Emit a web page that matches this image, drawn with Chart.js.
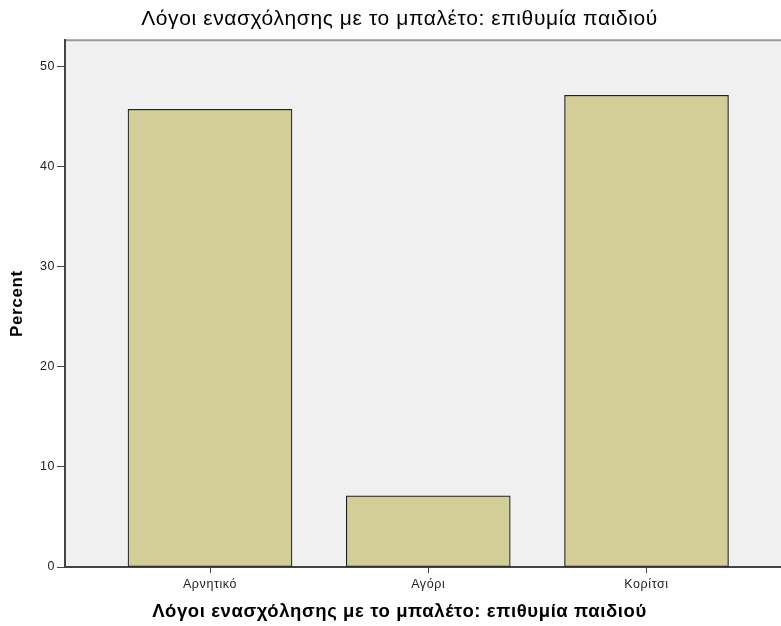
<!DOCTYPE html>
<html>
<head>
<meta charset="utf-8">
<script src="https://cdn.jsdelivr.net/npm/chart.js@4"></script>
<style>
  html, body { margin: 0; padding: 0; background: #fff; }
  #wrap { width: 781px; height: 626px; }
</style>
</head>
<body>
<div id="wrap"><canvas id="barChart" width="781" height="626"></canvas></div>
<script>
// Reasons for taking up ballet: the child's wish (percent of respondents)
const categories = ['Αρνητικό', 'Αγόρι', 'Κορίτσι'];
const percents = [45.7, 7.1, 47.1];
const yTicks = [0, 10, 20, 30, 40, 50];

const titleText = 'Λόγοι ενασχόλησης με το μπαλέτο: επιθυμία παιδιού';
const FONT = 'Arial, "Liberation Sans", sans-serif';

// Slightly looser letter spacing for every label on the canvas
const spacing = {
    id: 'spacing',
    beforeDraw: (chart) => {
        chart.ctx.letterSpacing = '0.6px';
    }
};

// Gray plot panel running out to the right edge, with a thin top rule.
// Painted before the scales so the axis borders sit on top of it.
const plotPanel = {
    id: 'plotPanel',
    beforeDraw: (chart) => {
        const { ctx, chartArea: a, width } = chart;
        ctx.save();
        ctx.fillStyle = '#f0f0f0';
        ctx.fillRect(a.left, a.top, width - a.left, a.bottom - a.top);
        ctx.lineWidth = 2;
        // carry the x axis line on to the edge
        ctx.strokeStyle = '#444';
        ctx.beginPath();
        ctx.moveTo(a.right - 1, Math.round(a.bottom));
        ctx.lineTo(width, Math.round(a.bottom));
        ctx.stroke();
        ctx.strokeStyle = '#999';
        ctx.beginPath();
        ctx.moveTo(a.left, a.top);
        ctx.lineTo(width, a.top);
        ctx.stroke();
        ctx.restore();
    }
};

document.addEventListener('DOMContentLoaded', () => {
    const ctx = document.getElementById('barChart');

    new Chart(ctx, {
        type: 'bar',
        data: {
            datasets: [{
                data: categories.map((c, i) => ({ x: i, y: percents[i] })),
                backgroundColor: '#d3ce97',
                borderColor: '#222',
                borderWidth: 1.2,
                borderSkipped: false,
                barThickness: 164
            }]
        },
        options: {
            responsive: false,
            animation: false,
            layout: { padding: { left: 0, top: 0, bottom: 0, right: 47 } },
            plugins: {
                legend: { display: false },
                tooltip: { enabled: false },
                title: {
                    display: true,
                    fullSize: false,
                    text: titleText,
                    color: '#000',
                    font: { family: FONT, size: 21, weight: 'normal' },
                    padding: { top: 7, bottom: 8 }
                }
            },
            scales: {
                x: {
                    type: 'linear',
                    offset: false,
                    min: -0.6644,
                    max: 2.4009,
                    afterBuildTicks: (scale) => {
                        scale.ticks = categories.map((c, i) => ({ value: i }));
                    },
                    afterFit: (scale) => { scale.height = 59; },
                    ticks: {
                        callback: (v) => categories[v],
                        color: '#222',
                        font: { family: FONT, size: 12.5 },
                        padding: 4,
                        maxRotation: 0,
                        autoSkip: false
                    },
                    grid: { offset: false, drawOnChartArea: false, drawTicks: true, tickLength: 6, color: '#444' },
                    border: { display: true, color: '#444', width: 2 },
                    title: {
                        display: true,
                        text: titleText,
                        color: '#000',
                        font: { family: FONT, size: 18.5, weight: 'bold' },
                        padding: { top: 0, bottom: 3 }
                    }
                },
                y: {
                    min: 0,
                    max: 52.6,
                    afterBuildTicks: (scale) => {
                        scale.ticks = yTicks.map(v => ({ value: v }));
                    },
                    afterFit: (scale) => { scale.width = 65; },
                    ticks: {
                        color: '#222',
                        font: { family: FONT, size: 12.5 },
                        padding: 2
                    },
                    grid: { drawOnChartArea: false, drawTicks: true, tickLength: 8, color: '#444' },
                    border: { display: true, color: '#444', width: 2 },
                    title: {
                        display: true,
                        text: 'Percent',
                        color: '#000',
                        font: { family: FONT, size: 17, weight: 'bold' },
                        padding: { top: 7, bottom: 0 }
                    }
                }
            }
        },
        plugins: [spacing, plotPanel]
    });
});
</script>
</body>
</html>
